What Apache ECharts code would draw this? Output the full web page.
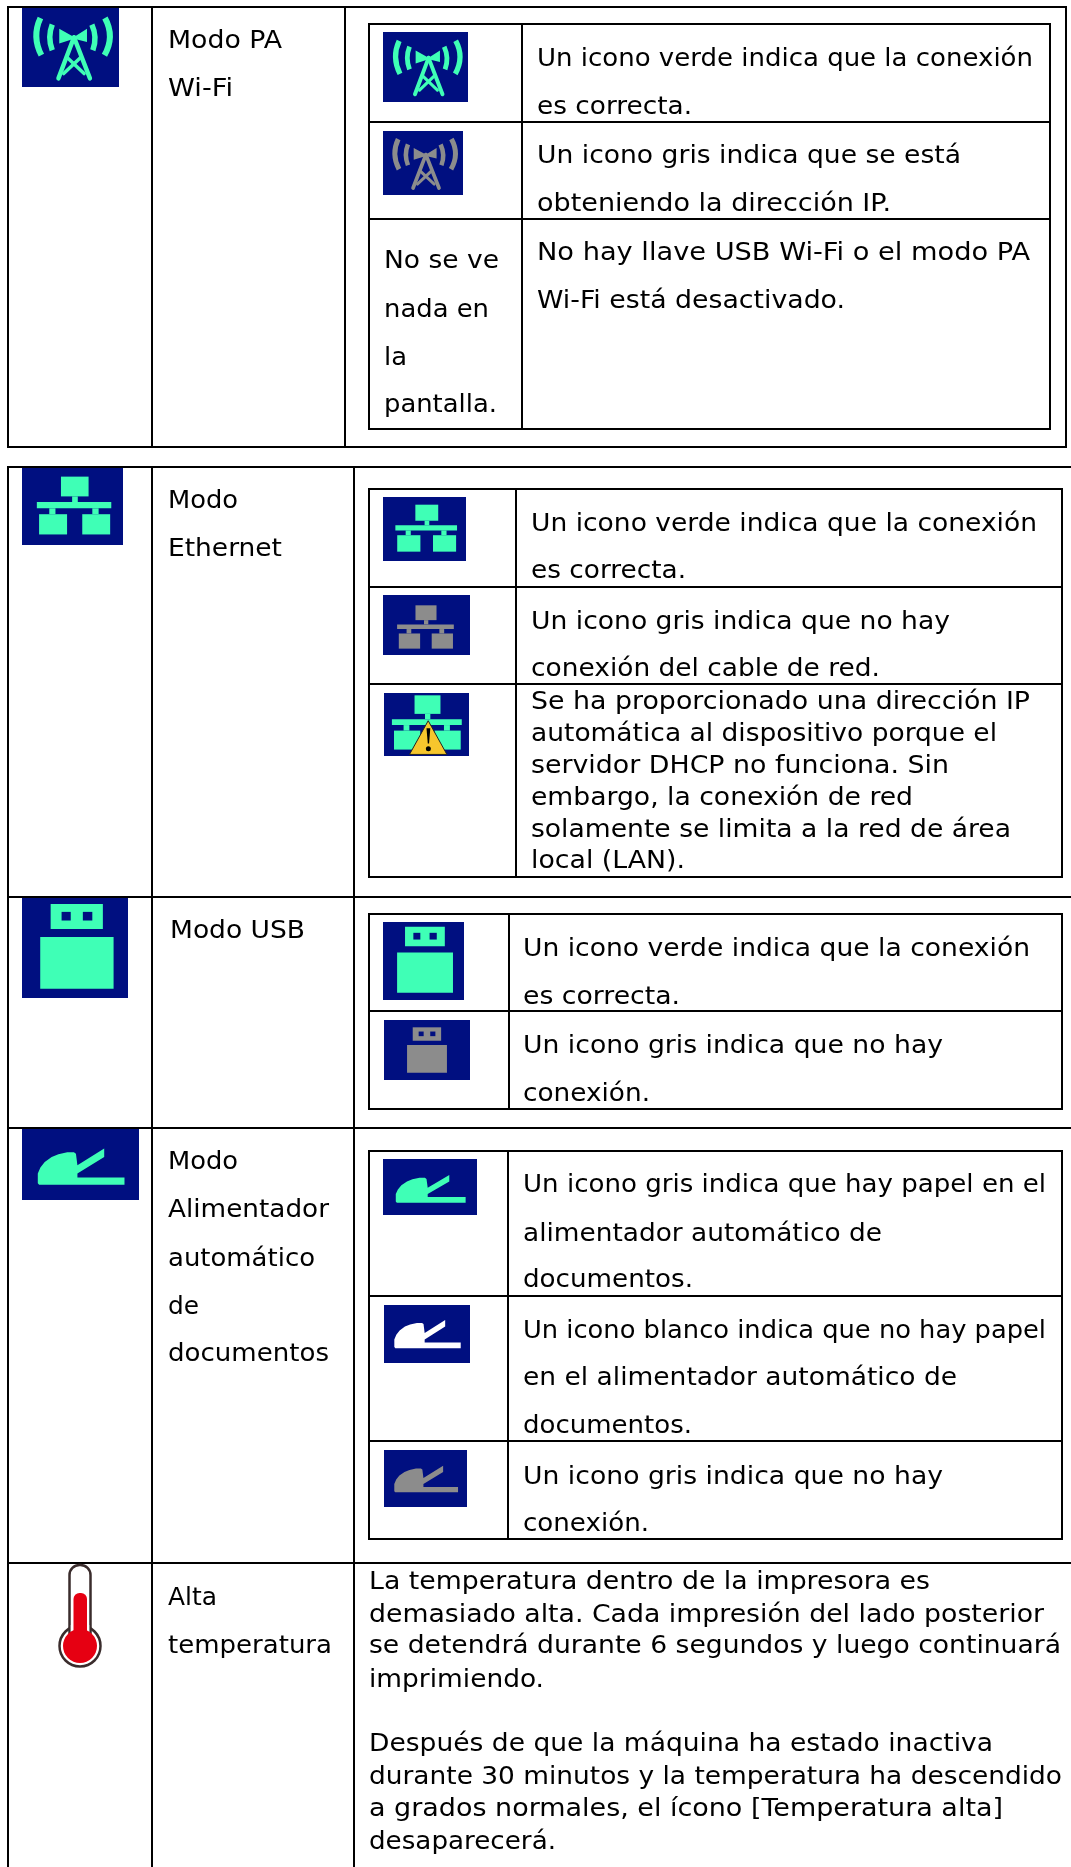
<!DOCTYPE html>
<html><head><meta charset="utf-8">
<style>html,body{margin:0;padding:0;background:#fff}#c{width:1071px;height:1867px}</style>
<script src="https://cdn.jsdelivr.net/npm/echarts@6/dist/echarts.min.js"></script>
</head><body><div id="c"></div>
<script>
// ---- text content ----
const wifiMode = ["Modo PA", "Wi-Fi"];
const wifiOk = ["Un icono verde indica que la conexión", "es correcta."];
const wifiGrey = ["Un icono gris indica que se está", "obteniendo la dirección IP."];
const wifiNoneLeft = ["No se ve", "nada en", "la", "pantalla."];
const wifiNone = ["No hay llave USB Wi-Fi o el modo PA", "Wi-Fi está desactivado."];
const ethMode = ["Modo", "Ethernet"];
const ethOk = ["Un icono verde indica que la conexión", "es correcta."];
const ethGrey = ["Un icono gris indica que no hay", "conexión del cable de red."];
const ethAuto = ["Se ha proporcionado una dirección IP", "automática al dispositivo porque el", "servidor DHCP no funciona. Sin", "embargo, la conexión de red", "solamente se limita a la red de área", "local (LAN)."];
const usbMode = ["Modo USB"];
const usbOk = ["Un icono verde indica que la conexión", "es correcta."];
const usbGrey = ["Un icono gris indica que no hay", "conexión."];
const adfMode = ["Modo", "Alimentador", "automático", "de", "documentos"];
const adfPaper = ["Un icono gris indica que hay papel en el", "alimentador automático de", "documentos."];
const adfEmpty = ["Un icono blanco indica que no hay papel", "en el alimentador automático de", "documentos."];
const adfGrey = ["Un icono gris indica que no hay", "conexión."];
const tempMode = ["Alta", "temperatura"];
const tempText = ["La temperatura dentro de la impresora es", "demasiado alta. Cada impresión del lado posterior", "se detendrá durante 6 segundos y luego continuará", "imprimiendo.", "", "Después de que la máquina ha estado inactiva", "durante 30 minutos y la temperatura ha descendido", "a grados normales, el ícono [Temperatura alta]", "desaparecerá."];

// ---- layout ----
const FONT_SIZE = 25.5, FONT = FONT_SIZE + 'px "DejaVu Sans"', BASE = 0.28 * FONT_SIZE;
const NAVY = '#000f80', GREEN = '#3fffb6', GREY = '#8c8c8c', WHITE = '#ffffff';
const g = [];
const rect = (x, y, w, h, fill) => g.push({type:'rect', shape:{x, y, width:w, height:h}, style:{fill}, silent:true});
const hl = (x0, x1, y) => rect(x0, y - 1, x1 - x0, 2, '#000');
const vl = (x, y0, y1) => rect(x - 1, y0, 2, y1 - y0, '#000');
const poly = (points, fill) => g.push({type:'polygon', shape:{points}, style:{fill}, silent:true});

const ctx = document.createElement('canvas').getContext('2d');
ctx.font = FONT;
function block(lines, x, ys, ends) {
  lines.forEach((t, i) => {
    if (!t) return;
    const sx = (ends[i] - x) / ctx.measureText(t).width;
    g.push({type:'text', silent:true, x, y: ys[i] - BASE, scaleX: sx, style:{text:t, x:0, y:0, font:FONT, fill:'#000', verticalAlign:'middle', align:'left'}});
  });
}

// table grid
[[8,1066,7],[8,1066,447],[369,1050,24],[369,1050,122],[369,1050,219],[369,1050,429],
 [8,1071,467],[8,1071,897],[8,1071,1128],[8,1071,1563],
 [369,1062,489],[369,1062,587],[369,1062,684],[369,1062,877],
 [369,1062,914],[369,1062,1011],[369,1062,1109],
 [369,1062,1151],[369,1062,1296],[369,1062,1441],[369,1062,1539]
].forEach(l => hl(l[0], l[1], l[2]));
[[8,6,448],[152,6,448],[345,6,448],[1066,6,448],[369,23,430],[522,23,430],[1050,23,430],
 [8,466,1867],[152,466,1867],[354,466,1867],
 [369,488,878],[516,488,878],[1062,488,878],
 [369,913,1110],[509,913,1110],[1062,913,1110],
 [369,1150,1540],[508,1150,1540],[1062,1150,1540]
].forEach(l => vl(l[0], l[1], l[2]));

// icons
function box(x0, y0, x1, y1) { rect(x0, y0, x1 - x0, y1 - y0, NAVY); return {x:x0, y:y0, w:x1 - x0, h:y1 - y0}; }
function wifi(b, color) {
  const P = (u, v) => [b.x + u * b.w, b.y + v * b.h];
  const k = b.w / 97;
  const curve = (a, c, e, lw) => g.push({type:'bezierCurve', silent:true, shape:{x1:a[0], y1:a[1], x2:e[0], y2:e[1], cpx1:c[0], cpy1:c[1]}, style:{stroke:color, lineWidth:lw * k, fill:null}});
  const seg = (a, e, lw) => g.push({type:'line', silent:true, shape:{x1:a[0], y1:a[1], x2:e[0], y2:e[1]}, style:{stroke:color, lineWidth:lw * k, lineCap:'round'}});
  curve(P(.19,.126), P(.10,.36), P(.2,.598), 6);
  curve(P(.855,.126), P(.96,.36), P(.85,.598), 6);
  curve(P(.312,.21), P(.26,.37), P(.312,.535), 5.5);
  curve(P(.72,.21), P(.78,.37), P(.73,.535), 5.5);
  poly([P(.384,.264), P(.536,.368), P(.67,.264), P(.67,.43), P(.536,.39), P(.384,.45)], color);
  seg(P(.536,.37), P(.376,.89), 4.5);
  seg(P(.536,.37), P(.7,.89), 4.5);
  seg(P(.46,.62), P(.64,.83), 3.5);
  seg(P(.61,.62), P(.43,.83), 3.5);
}
function ethernet(b, color, c) {
  const X = u => b.x + b.w * (c[0] + u * (c[1] - c[0])), Y = v => b.y + b.h * (c[2] + v * (c[3] - c[2]));
  const r = (u0, u1, v0, v1) => rect(X(u0), Y(v0), X(u1) - X(u0), Y(v1) - Y(v0), color);
  r(.324,.695,0,.342); r(.474,.55,.342,.44); r(0,1,.44,.548);
  r(.167,.25,.548,.65); r(.745,.83,.548,.65); r(.03,.406,.65,1); r(.61,.985,.65,1);
}
function warning(b) {
  const P = (u, v) => [b.x + u * b.w, b.y + v * b.h];
  g.push({type:'polygon', silent:true, shape:{points:[P(.52,.44), P(.3,.975), P(.74,.975)]}, style:{fill:'#f6c62d', stroke:'#222', lineWidth:1, lineJoin:'round'}});
  poly([P(.5,.56), P(.545,.56), P(.53,.8), P(.515,.8)], '#000');
  g.push({type:'circle', silent:true, shape:{cx:P(.522,0)[0], cy:P(0,.885)[1], r:2.5}, style:{fill:'#000'}});
}
function usb(b, color, c) {
  const X = u => b.x + b.w * (c[0] + u * (c[1] - c[0])), Y = v => b.y + b.h * (c[2] + v * (c[3] - c[2]));
  const r = (u0, u1, v0, v1, f) => rect(X(u0), Y(v0), X(u1) - X(u0), Y(v1) - Y(v0), f);
  r(.142,.854,0,.296,color); r(.291,.416,.093,.195,NAVY); r(.581,.71,.093,.195,NAVY); r(0,1,.39,1,color);
}
function feeder(b, color, c) {
  const P = (u, v) => [b.x + b.w * (c[0] + u * (c[1] - c[0])), b.y + b.h * (c[2] + v * (c[3] - c[2]))];
  poly([P(.015,1), P(0,.96), P(0,.69), P(.03,.52), P(.08,.37), P(.16,.23), P(.238,.156), P(.34,.1), P(.417,.1), P(.44,.14), P(.457,.458), P(.766,0), P(.766,.23), P(.457,.688), P(.457,.798), P(1,.798), P(1,1)], color);
}
function thermometer() {
  const ink = '#3a2c2c', red = '#e60012';
  g.push({type:'circle', silent:true, shape:{cx:80, cy:1646, r:20.5}, style:{fill:'#fff', stroke:ink, lineWidth:2.5}});
  g.push({type:'rect', silent:true, shape:{x:69.5, y:1565, width:21, height:72, r:[10,10,0,0]}, style:{fill:'#fff', stroke:ink, lineWidth:2.5}});
  rect(70.8, 1625, 18.4, 14, '#fff');
  g.push({type:'rect', silent:true, shape:{x:73.5, y:1593, width:13.5, height:45, r:[6,6,0,0]}, style:{fill:red}});
  g.push({type:'circle', silent:true, shape:{cx:80, cy:1646, r:17}, style:{fill:red}});
}

wifi(box(22,8,119,87), GREEN);
wifi(box(383,32,468,102), GREEN);
wifi(box(383,131,463,195), GREY);
ethernet(box(22,468,123,545), GREEN, [.147,.884,.112,.863]);
ethernet(box(383,497,466,561), GREEN, [.149,.892,.12,.854]);
ethernet(box(383,595,470,655), GREY, [.162,.814,.172,.894]);
const warnBox = box(384,693,469,756);
ethernet(warnBox, GREEN, [.093,.915,.037,.898]);
warning(warnBox);
usb(box(22,898,128,998), GREEN, [.172,.864,.06,.907]);
usb(box(383,922,464,1000), GREEN, [.174,.864,.06,.906]);
usb(box(384,1020,470,1080), GREY, [.268,.732,.122,.878]);
feeder(box(22,1129,139,1200), GREEN, [.135,.876,.276,.785]);
feeder(box(383,1159,477,1215), GREEN, [.136,.879,.286,.78]);
feeder(box(384,1305,470,1363), WHITE, [.12,.892,.26,.745]);
feeder(box(384,1450,467,1507), GREY, [.124,.892,.277,.742]);
thermometer();

// text: left edge, baselines, right edge of each line
block(wifiMode, 168, [49,97], [282,233]);
block(wifiOk, 537, [67,115], [1033,692]);
block(wifiGrey, 537, [164,212], [961,891]);
block(wifiNoneLeft, 384, [269,318,366,413], [499,489,407,497]);
block(wifiNone, 537, [261,309], [1030,845]);
block(ethMode, 168, [509,557], [238,282]);
block(ethOk, 531, [532,579], [1037,686]);
block(ethGrey, 531, [630,677], [950,880]);
block(ethAuto, 531, [710,742,774,806,838,869], [1030,997,949,913,1011,685]);
block(usbMode, 170, [939], [305]);
block(usbOk, 523, [957,1005], [1030,680]);
block(usbGrey, 523, [1054,1102], [943,650]);
block(adfMode, 168, [1170,1218,1267,1315,1362], [238,329,315,199,329]);
block(adfPaper, 523, [1193,1242,1288], [1046,882,693]);
block(adfEmpty, 523, [1339,1386,1434], [1046,957,692]);
block(adfGrey, 523, [1485,1532], [943,649]);
block(tempMode, 168, [1606,1654], [217,332]);
block(tempText, 369, [1590,1623,1654,1688,0,1752,1785,1817,1850], [930,1044,1061,544,0,993,1062,1003,556]);

const chart = echarts.init(document.getElementById('c'), null, {renderer:'canvas', width:1071, height:1867});
chart.setOption({animation:false, backgroundColor:'#fff', graphic:{elements:g}});
</script></body></html>
